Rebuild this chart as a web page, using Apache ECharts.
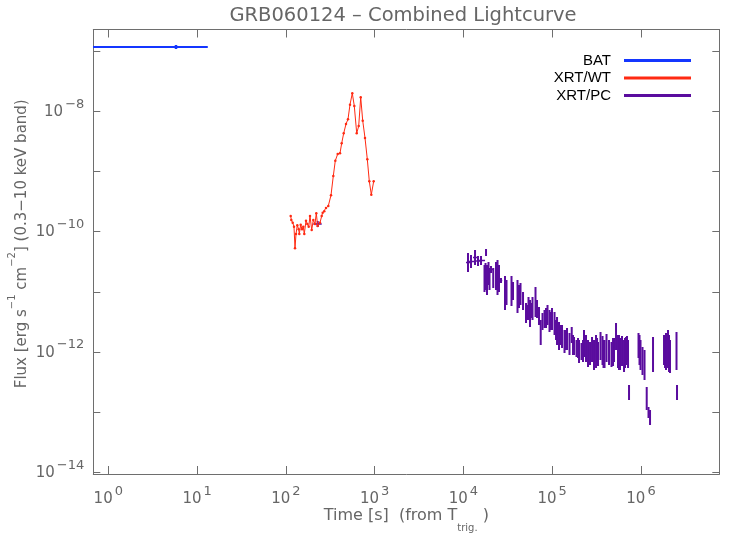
<!DOCTYPE html>
<html><head><meta charset="utf-8">
<script src="https://cdn.jsdelivr.net/npm/echarts@6/dist/echarts.min.js"></script>
<style>html,body{margin:0;padding:0;background:#fff}#c{width:747px;height:534px}</style>
</head><body><div id="c"></div>
<script>
// ---------------- data ----------------
const chartTitle = 'GRB060124 \u2013 Combined Lightcurve';
const seriesNames = ['BAT', 'XRT/WT', 'XRT/PC'];
const xRange = [0.678, 7.62e6];
const yRange = [9.4e-15, 2.27e-7];
const yLabelExponents = [-8, -10, -12, -14];

// BAT (one binned point with errors)
const batTime   = [5.79];
const batTimeLo = [0.3];
const batTimeHi = [13.2];
const batFlux   = [1.165e-7];
const batFluxLo = [1.08e-7];
const batFluxHi = [1.26e-7];

// XRT window timing mode
const wtTime = [113.4, 115.2, 119.4, 123.5, 126.8, 130.1, 134.5, 139.5, 141.7, 146.9,
  152.0, 157.2, 161.3, 168.6, 174.4, 180.9, 187.1, 195.5, 203.8, 212.9,
  220.2, 228.4, 242.4, 253.3, 260.0, 271.0, 283.2, 300.6, 322.4, 342.3,
  360.5, 383.7, 407.2, 425.6, 448.3, 475.9, 501.1, 527.8, 560.2, 590.0,
  628.1, 661.5, 696.7, 733.8, 778.9, 826.8, 870.9, 917.2, 975.9];
const wtFlux = [1.815e-10, 1.556e-10, 1.403e-10, 1.205e-10, 5.27e-11, 9.12e-11, 1.271e-10, 1.091e-10, 9.12e-11, 1.301e-10,
  1.091e-10, 1.205e-10, 9.12e-11, 1.517e-10, 1.336e-10, 1.205e-10, 1.815e-10, 1.062e-10, 1.556e-10, 1.336e-10,
  2.013e-10, 1.239e-10, 1.403e-10, 1.815e-10, 2.06e-10, 2.173e-10, 2.465e-10, 2.66e-10, 4.01e-10, 8.38e-10,
  1.505e-9, 1.945e-9, 1.997e-9, 2.93e-9, 4.30e-9, 6.12e-9, 7.33e-9, 1.282e-8, 1.98e-8, 1.22e-8,
  4.30e-9, 5.67e-9, 1.70e-8, 6.95e-9, 3.59e-9, 1.59e-9, 6.84e-10, 4.10e-10, 6.84e-10];

// XRT photon counting mode: time, time-bin edges (null = no bin bar), flux, flux error range
const pcTime = [228.4, 11260, 12170, 13510, 14600, 15780, 17280, 17740, 17970, 18430,
  19160, 19670, 20450, 21670, 23280, 24210, 24710, 25160, 26500, 29400,
  30570, 34800, 36180, 40660, 42270, 43950, 46910, 50690, 52020, 54090,
  56230, 57690, 60000, 64850, 67430, 71010, 74220, 77730, 81900, 85150,
  88530, 93250, 96940, 99470, 106200, 110400, 113300, 119300, 125640, 128960,
  137600, 143000, 146800, 156600, 165900, 171550, 176000, 187800, 195300, 200400,
  213800, 222300, 228100, 240300, 253100, 266600, 280800, 295700, 311500, 319800,
  328100, 350100, 368700, 378400, 388300, 409000, 436300, 465600, 484200, 496700,
  523200, 551000, 565500, 580300, 611300, 643900, 660700, 678200, 695800, 714300,
  733100, 937800, 962300, 987700, 1.040e6, 1.096e6, 1.160e6, 1.215e6, 1.264e6, 1.366e6,
  1.817e6, 1.865e6, 1.913e6, 2.015e6, 2.068e6, 2.122e6, 2.512e6, 2.545e6];
const pcTimeLo = [203.8, 10690, 11560, 12820, 13860, 14980, null, null, null, null,
  null, null, 18920, null, null, null, null, null, 23420, null,
  null, null, null, null, null, null, null, null, null, null,
  null, null, null, null, null, null, null, null, null, null,
  null, null, null, null, null, null, null, null, null, null,
  null, null, null, null, null, null, null, null, null, null,
  null, null, null, null, null, null, null, null, null, null,
  null, null, null, null, null, null, null, null, null, null,
  null, null, null, null, null, null, null, null, null, null,
  null, null, null, null, null, null, null, null, null, null,
  null, null, null, null, null, null, null, null];
const pcTimeHi = [253.3, 12500, 13160, 14220, 15780, 17510, null, null, null, null,
  null, null, 21670, null, null, null, null, null, 27350, null,
  null, null, null, null, null, null, null, null, null, null,
  null, null, null, null, null, null, null, null, null, null,
  null, null, null, null, null, null, null, null, null, null,
  null, null, null, null, null, null, null, null, null, null,
  null, null, null, null, null, null, null, null, null, null,
  null, null, null, null, null, null, null, null, null, null,
  null, null, null, null, null, null, null, null, null, null,
  null, null, null, null, null, null, null, null, null, null,
  null, null, null, null, null, null, null, null];
const pcFlux = [1.335e-10, 3.06e-11, 3.18e-11, 3.71e-11, 3.24e-11, 3.31e-11, 1.66e-11, 1.79e-11, 4.49e-11, 1.57e-11,
  2.01e-11, 1.63e-11, 2.34e-11, 1.69e-11, 1.83e-11, 1.73e-11, 1.83e-11, 1.66e-11, 1.54e-11, 9.54e-12,
  9.72e-12, 1.03e-11, 1.03e-11, 8.34e-12, 8.34e-12, 9.18e-12, 7.02e-12, 4.44e-12, 4.52e-12, 5.27e-12,
  4.35e-12, 4.88e-12, 5.27e-12, 6.76e-12, 5.17e-12, 3.96e-12, 2.10e-12, 3.21e-12, 3.53e-12, 3.66e-12,
  4.11e-12, 3.27e-12, 3.27e-12, 3.53e-12, 2.97e-12, 2.32e-12, 2.23e-12, 1.84e-12, 1.91e-12, 1.81e-12,
  1.49e-12, 1.58e-12, 1.64e-12, 1.36e-12, 1.91e-12, 1.30e-12, 1.26e-12, 1.14e-12, 1.16e-12, 1.02e-12,
  1.02e-12, 1.04e-12, 1.38e-12, 1.14e-12, 9.43e-13, 9.43e-13, 1.10e-12, 8.90e-13, 1.02e-12, 1.02e-12,
  9.24e-13, 1.26e-12, 1.06e-12, 9.24e-13, 9.24e-13, 1.16e-12, 9.79e-13, 9.07e-13, 9.98e-13, 1.08e-12,
  1.81e-12, 1.02e-12, 9.79e-13, 9.24e-13, 1.04e-12, 8.57e-13, 9.6e-13, 1.04e-12, 1.12e-12, 9.24e-13,
  2.12e-13, 1.28e-12, 1.08e-12, 8.90e-13, 7.07e-13, 6.07e-13, 1.68e-13, 9.86e-14, 8.14e-14, 9.07e-13,
  1.08e-12, 9.24e-13, 1.02e-12, 1.12e-12, 9.43e-13, 8.40e-13, 1.04e-12, 2.12e-13];
const pcFluxLo = [1.19e-10, 2.13e-11, 2.48e-11, 2.78e-11, 2.68e-11, 2.78e-11, 9.91e-12, 1.07e-11, 3.93e-11, 8.83e-12,
  1.30e-11, 1.07e-11, 2.05e-11, 1.155e-11, 1.07e-11, 8.83e-12, 1.20e-11, 9.91e-12, 1.40e-11, 4.98e-12,
  6.03e-12, 5.80e-12, 7.29e-12, 4.44e-12, 5.37e-12, 6.03e-12, 4.98e-12, 3.03e-12, 3.40e-12, 3.40e-12,
  2.60e-12, 3.66e-12, 3.40e-12, 3.81e-12, 3.66e-12, 2.80e-12, 1.30e-12, 2.32e-12, 2.50e-12, 2.50e-12,
  2.80e-12, 2.15e-12, 2.32e-12, 2.32e-12, 1.91e-12, 1.58e-12, 1.30e-12, 1.08e-12, 1.30e-12, 1.16e-12,
  9.6e-13, 1.08e-12, 1.08e-12, 8.9e-13, 1.41e-12, 8.9e-13, 8.9e-13, 8.25e-13, 7.93e-13, 6.55e-13,
  7.35e-13, 6.81e-13, 8.25e-13, 6.81e-13, 5.62e-13, 6.07e-13, 6.81e-13, 5.01e-13, 5.41e-13, 6.07e-13,
  5.84e-13, 7.35e-13, 6.07e-13, 5.41e-13, 5.41e-13, 6.81e-13, 6.07e-13, 5.62e-13, 5.84e-13, 6.81e-13,
  1.08e-12, 5.41e-13, 5.01e-13, 5.01e-13, 5.84e-13, 4.64e-13, 5.41e-13, 6.07e-13, 6.81e-13, 5.41e-13,
  1.59e-13, 7.93e-13, 6.07e-13, 5.01e-13, 4.14e-13, 3.42e-13, 1.085e-13, 7.99e-14, 6.11e-14, 4.64e-13,
  6.07e-13, 5.41e-13, 5.01e-13, 5.41e-13, 4.64e-13, 4.47e-13, 5.01e-13, 1.59e-13];
const pcFluxHi = [1.497e-10, 4.41e-11, 4.08e-11, 4.94e-11, 3.93e-11, 3.93e-11, 2.78e-11, 3.00e-11, 5.135e-11, 2.78e-11,
  3.12e-11, 2.48e-11, 2.68e-11, 2.48e-11, 3.12e-11, 3.37e-11, 2.78e-11, 2.78e-11, 1.69e-11, 1.83e-11,
  1.57e-11, 1.83e-11, 1.45e-11, 1.57e-11, 1.30e-11, 1.40e-11, 9.91e-12, 6.50e-12, 6.03e-12, 8.18e-12,
  7.29e-12, 6.50e-12, 8.18e-12, 1.20e-11, 7.29e-12, 5.58e-12, 3.40e-12, 4.44e-12, 4.98e-12, 5.37e-12,
  6.03e-12, 4.98e-12, 4.61e-12, 5.37e-12, 4.61e-12, 3.40e-12, 3.81e-12, 3.15e-12, 2.80e-12, 2.80e-12,
  2.32e-12, 2.32e-12, 2.50e-12, 2.06e-12, 2.60e-12, 1.91e-12, 1.77e-12, 1.58e-12, 1.71e-12, 1.58e-12,
  1.41e-12, 1.58e-12, 2.32e-12, 1.91e-12, 1.58e-12, 1.46e-12, 1.77e-12, 1.58e-12, 1.91e-12, 1.71e-12,
  1.46e-12, 2.15e-12, 1.84e-12, 1.58e-12, 1.58e-12, 1.99e-12, 1.58e-12, 1.46e-12, 1.71e-12, 1.71e-12,
  3.03e-12, 1.91e-12, 1.91e-12, 1.71e-12, 1.84e-12, 1.58e-12, 1.71e-12, 1.77e-12, 1.84e-12, 1.58e-12,
  2.82e-13, 2.06e-12, 1.91e-12, 1.58e-12, 1.21e-12, 1.08e-12, 2.62e-13, 1.22e-13, 1.085e-13, 1.77e-12,
  1.91e-12, 1.58e-12, 2.06e-12, 2.32e-12, 1.91e-12, 1.58e-12, 2.15e-12, 2.82e-13];

// ---------------- chart ----------------
const AXIS_COLOR = '#6e6e6e';
const TEXT_COLOR = '#666';
const FONT = "'DejaVu Sans', sans-serif";
const COLORS = { 'BAT': '#1436ff', 'XRT/WT': '#ff2a12', 'XRT/PC': '#5a0c9e' };

function errRows(t, tlo, thi, f, flo, fhi) {
  return t.map((v, i) => [v, tlo[i] == null ? v : tlo[i], thi[i] == null ? v : thi[i], f[i], flo[i], fhi[i]]);
}
function errRender(vw, hw) {
  return function (params, api) {
    const t = api.value(0), tlo = api.value(1), thi = api.value(2);
    const f = api.value(3), flo = api.value(4), fhi = api.value(5);
    const color = api.visual('color');
    const a = api.coord([t, flo]), b = api.coord([t, fhi]);
    const children = [{ type: 'line', shape: { x1: a[0], y1: a[1], x2: b[0], y2: b[1] }, style: { stroke: color, lineWidth: vw } }];
    if (thi > tlo) {
      const l = api.coord([tlo, f]), r = api.coord([thi, f]);
      children.push({ type: 'line', shape: { x1: l[0], y1: l[1], x2: r[0], y2: r[1] }, style: { stroke: color, lineWidth: hw } });
    }
    return { type: 'group', children };
  };
}
function expOf(v) {
  const e = Math.log10(v), r = Math.round(e);
  return Math.abs(e - r) < 1e-6 ? r : null;
}
const supRich = {
  b: { fontFamily: FONT, fontSize: 15, color: TEXT_COLOR, lineHeight: 22, verticalAlign: 'bottom' },
  e: { fontFamily: FONT, fontSize: 13, color: TEXT_COLOR, lineHeight: 14, verticalAlign: 'top', padding: [0, 0, 0, 2] }
};
const tickStyle = { show: true, inside: true, length: 8, lineStyle: { color: AXIS_COLOR, width: 1 } };
const lineStyle = { show: true, onZero: false, lineStyle: { color: AXIS_COLOR, width: 1 } };

const chart = echarts.init(document.getElementById('c'), null, { renderer: 'canvas' });
chart.setOption({
  animation: false,
  backgroundColor: '#fff',
  title: {
    text: chartTitle, left: 398, top: 1, textAlign: 'center',
    textStyle: { fontFamily: FONT, fontSize: 19.5, fontWeight: 'normal', color: TEXT_COLOR }
  },
  legend: {
    orient: 'vertical', align: 'right', right: 56, top: 53, padding: 0,
    itemWidth: 67, itemHeight: 3, itemGap: 2.5,
    textStyle: { fontFamily: "'Liberation Sans', Arial, sans-serif", fontSize: 15, color: '#000', lineHeight: 15, padding: [0, 8, 0, 0] },
    data: seriesNames.map(n => ({ name: n, icon: 'rect', itemStyle: { color: COLORS[n] } }))
  },
  grid: { left: 93.3, right: 27.7, top: 29.5, bottom: 60, containLabel: false, outerBoundsMode: 'none' },
  xAxis: [
    {
      type: 'log', logBase: 10, min: xRange[0], max: xRange[1], position: 'bottom',
      axisLine: lineStyle, axisTick: tickStyle, splitLine: { show: false }, minorTick: { show: false },
      axisLabel: {
        show: true, margin: 11, showMinLabel: false, showMaxLabel: false,
        formatter: v => { const r = expOf(v); return r == null ? '' : '{b|10}{e|' + r + '}'; },
        rich: supRich
      },
      name: '{n|Time [s]  (from T}{s|trig.}{n| )}', nameLocation: 'middle', nameGap: 33.5, nameMoveOverlap: false,
      nameTextStyle: {
        rich: {
          n: { fontFamily: FONT, fontSize: 16, color: TEXT_COLOR, lineHeight: 26, verticalAlign: 'top' },
          s: { fontFamily: FONT, fontSize: 10, color: TEXT_COLOR, lineHeight: 12, verticalAlign: 'bottom' }
        }
      }
    },
    {
      type: 'log', logBase: 10, min: xRange[0], max: xRange[1], position: 'top',
      axisLine: lineStyle, axisTick: tickStyle, splitLine: { show: false }, axisLabel: { show: false }
    }
  ],
  yAxis: [
    {
      type: 'log', logBase: 10, min: yRange[0], max: yRange[1], position: 'left',
      axisLine: lineStyle, axisTick: Object.assign({}, tickStyle, { length: 7 }), splitLine: { show: false },
      axisLabel: {
        show: true, margin: 9, showMinLabel: false, showMaxLabel: false, padding: [0, 0, 5, 0],
        formatter: v => { const r = expOf(v); return (r == null || yLabelExponents.indexOf(r) < 0) ? '' : '{b|10}{e|\u2212' + Math.abs(r) + '}'; },
        rich: supRich
      },
      name: '{n|Flux [erg s}{s|\u22121}{n| cm}{s|\u22122}{n|] (0.3\u221210 keV band)}',
      nameLocation: 'middle', nameRotate: 90, nameGap: 64, nameMoveOverlap: false,
      nameTextStyle: {
        padding: [0, 0, 0, 16],
        rich: {
          n: { fontFamily: FONT, fontSize: 15, color: TEXT_COLOR, lineHeight: 22, verticalAlign: 'bottom' },
          s: { fontFamily: FONT, fontSize: 10, color: TEXT_COLOR, lineHeight: 12, verticalAlign: 'top' }
        }
      }
    },
    {
      type: 'log', logBase: 10, min: yRange[0], max: yRange[1], position: 'right',
      axisLine: lineStyle, axisTick: Object.assign({}, tickStyle, { length: 7 }), splitLine: { show: false }, axisLabel: { show: false }
    }
  ],
  series: [
    {
      name: 'BAT', type: 'custom', xAxisIndex: 0, yAxisIndex: 0, clip: true,
      itemStyle: { color: COLORS['BAT'] },
      encode: { x: [0, 1, 2], y: [3, 4, 5] },
      renderItem: errRender(2.5, 2),
      data: errRows(batTime, batTimeLo, batTimeHi, batFlux, batFluxLo, batFluxHi)
    },
    {
      name: 'XRT/WT', type: 'line', xAxisIndex: 0, yAxisIndex: 0,
      lineStyle: { color: COLORS['XRT/WT'], width: 1 },
      itemStyle: { color: COLORS['XRT/WT'] },
      symbol: 'circle', symbolSize: 2.5, showSymbol: true,
      data: wtTime.map((t, i) => [t, wtFlux[i]])
    },
    {
      name: 'XRT/PC', type: 'custom', xAxisIndex: 0, yAxisIndex: 0, clip: true,
      itemStyle: { color: COLORS['XRT/PC'] },
      encode: { x: [0, 1, 2], y: [3, 4, 5] },
      renderItem: errRender(2, 1.5),
      data: errRows(pcTime, pcTimeLo, pcTimeHi, pcFlux, pcFluxLo, pcFluxHi)
    }
  ]
});
</script>
</body></html>
